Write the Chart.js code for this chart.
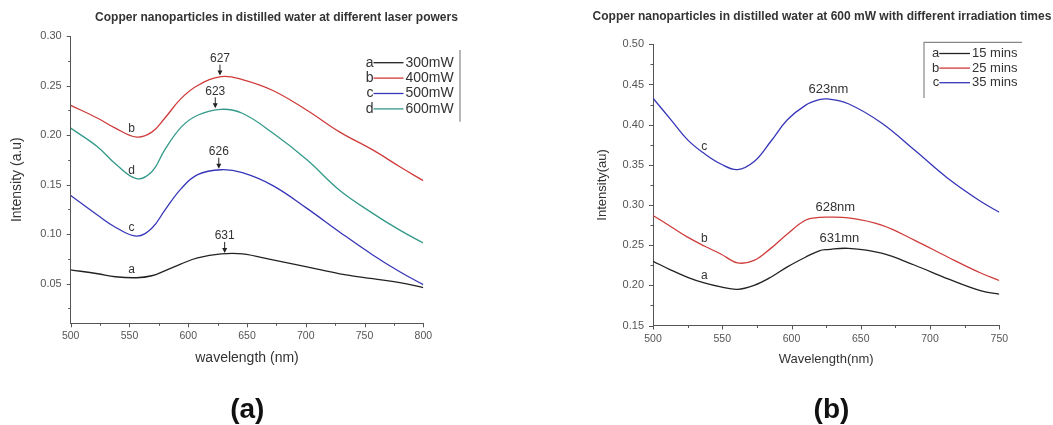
<!DOCTYPE html>
<html>
<head>
<meta charset="utf-8">
<script src="https://cdn.jsdelivr.net/npm/chart.js"></script>
<style>
  html, body { margin: 0; padding: 0; background: #fff; }
  #wrap { position: relative; width: 1053px; height: 425px; overflow: hidden; }
  #chartA { position: absolute; left: 0; top: 0; }
  #chartB { position: absolute; left: 520px; top: 0; }
</style>
</head>
<body>
<div id="wrap">
  <canvas id="chartA" width="520" height="425"></canvas>
  <canvas id="chartB" width="533" height="425"></canvas>
</div>
<script>
// ---------- (a) different laser powers ----------
const waveA    = [500, 523, 538, 556, 569, 580, 594, 608, 628, 646, 672, 701, 729, 757, 780, 800];
const power300 = [0.064, 0.060, 0.057, 0.056, 0.058, 0.063, 0.070, 0.076, 0.080, 0.080, 0.074, 0.067, 0.060, 0.055, 0.051, 0.046];
const power400 = [0.230, 0.217, 0.207, 0.198, 0.203, 0.217, 0.237, 0.250, 0.259, 0.256, 0.245, 0.225, 0.203, 0.185, 0.168, 0.154];
const power500 = [0.139, 0.119, 0.107, 0.098, 0.106, 0.124, 0.146, 0.160, 0.165, 0.162, 0.149, 0.126, 0.102, 0.079, 0.062, 0.049];
const power600 = [0.207, 0.188, 0.171, 0.156, 0.163, 0.185, 0.208, 0.220, 0.226, 0.222, 0.202, 0.175, 0.144, 0.121, 0.104, 0.091];
const lettersA = ["a", "b", "c", "d"];
const namesA   = ["300mW", "400mW", "500mW", "600mW"];
const peakTextA = ["631", "627", "626", "623"];
const peakWaveA = [631, 627, 626, 623];
const peakValA  = [0.080, 0.259, 0.165, 0.226];
const xTicksA = [500, 550, 600, 650, 700, 750, 800];
const yTicksA = [0.05, 0.10, 0.15, 0.20, 0.25, 0.30];

// ---------- (b) 600 mW, different irradiation times ----------
const waveB  = [500, 513, 525, 537, 549, 561, 573, 585, 597, 610, 620, 626, 641, 665, 689, 713, 737, 750];
const time15 = [0.230, 0.219, 0.210, 0.203, 0.198, 0.195, 0.200, 0.210, 0.223, 0.235, 0.243, 0.2445, 0.246, 0.240, 0.225, 0.208, 0.193, 0.189];
const time25 = [0.287, 0.273, 0.260, 0.249, 0.239, 0.228, 0.231, 0.246, 0.264, 0.281, 0.2845, 0.285, 0.284, 0.275, 0.256, 0.235, 0.215, 0.206];
const time35 = [0.433, 0.406, 0.381, 0.364, 0.351, 0.344, 0.354, 0.379, 0.406, 0.424, 0.431, 0.432, 0.426, 0.402, 0.368, 0.333, 0.304, 0.291];
const lettersB = ["a", "b", "c"];
const namesB   = ["15 mins", "25 mins", "35 mins"];
const peakTextB = ["631mn", "628nm", "623nm"];
const peakWaveB = [631, 628, 623];
const peakValB  = [0.246, 0.285, 0.432];
const xTicksB = [500, 550, 600, 650, 700, 750];
const yTicksB = [0.15, 0.20, 0.25, 0.30, 0.35, 0.40, 0.45, 0.50];

const FONT = "'Liberation Sans', Arial, sans-serif";
const INK = "#333";
const AXIS = "#555";

function pts(xs, ys) {
    return xs.map((x, i) => ({ x: x, y: ys[i] }));
}

function isMajor(v, majors) {
    return majors.some(m => Math.abs(m - v) < 1e-6);
}

// majors plus the half-way minor ticks
function withMinors(majors, min) {
    const step = majors[1] - majors[0];
    const out = majors.slice();
    majors.forEach(m => {
        const h = +(m - step / 2).toFixed(4);
        if (h >= min) out.push(h);
    });
    return out.sort((a, b) => a - b);
}

function line(label, letter, data, color) {
    return {
        label: label,
        letter: letter,
        data: data,
        borderColor: color,
        borderWidth: 1.3,
        pointRadius: 0,
        fill: false,
        tension: 0.4
    };
}

// -----------------------------
// DECORATION PLUGIN
// -----------------------------
const decor = {
    id: "decor",
    afterDraw(chart, args, o) {
        const ctx = chart.ctx;
        const xs = chart.scales.x, ys = chart.scales.y;
        ctx.save();

        // tick marks
        ctx.strokeStyle = AXIS;
        ctx.lineWidth = 1;
        xs.ticks.forEach(t => {
            const px = Math.round(xs.getPixelForValue(t.value)) + 0.5;
            const len = isMajor(t.value, o.xMajors) ? 4 : 2.5;
            ctx.beginPath();
            ctx.moveTo(px, xs.top);
            ctx.lineTo(px, xs.top + len);
            ctx.stroke();
        });
        ys.ticks.forEach(t => {
            const py = Math.round(ys.getPixelForValue(t.value)) + 0.5;
            const len = isMajor(t.value, o.yMajors) ? 4 : 2.5;
            ctx.beginPath();
            ctx.moveTo(ys.right, py);
            ctx.lineTo(ys.right - len, py);
            ctx.stroke();
        });

        // title
        ctx.fillStyle = INK;
        ctx.textAlign = "center";
        ctx.textBaseline = "middle";
        ctx.font = "bold 12px " + FONT;
        ctx.fillText(o.title, o.titleX, o.titleY);

        // panel label
        ctx.fillStyle = "#111";
        ctx.font = "bold 28px " + FONT;
        ctx.fillText(o.panel, o.panelX, 410);

        // legend
        ctx.font = o.legendFont;
        chart.data.datasets.forEach((ds, i) => {
            const y = o.legend.y + i * o.legend.step;
            ctx.fillStyle = INK;
            ctx.textAlign = "right";
            ctx.fillText(ds.letter, o.legend.x, y);
            ctx.strokeStyle = ds.borderColor;
            ctx.lineWidth = 1.3;
            ctx.beginPath();
            ctx.moveTo(o.legend.x, y);
            ctx.lineTo(o.legend.x + o.legend.len, y);
            ctx.stroke();
            ctx.fillStyle = INK;
            ctx.textAlign = "left";
            ctx.fillText(ds.label, o.legend.x + o.legend.len + 2, y);
        });
        ctx.strokeStyle = "#888";
        ctx.lineWidth = 1.2;
        ctx.beginPath();
        o.legend.frame.forEach((p, i) => i ? ctx.lineTo(p[0], p[1]) : ctx.moveTo(p[0], p[1]));
        ctx.stroke();

        // curve letters
        ctx.fillStyle = INK;
        ctx.textAlign = "center";
        ctx.font = "12px " + FONT;
        chart.data.datasets.forEach((ds, i) => {
            const el = chart.getDatasetMeta(i).data[o.letterIndex];
            ctx.fillText(ds.letter, el.x + o.letterDx, el.y + o.letterDy);
        });

        // peak labels
        ctx.font = o.peakFont;
        o.peaks.text.forEach((txt, i) => {
            const px = xs.getPixelForValue(o.peaks.wave[i]);
            const py = ys.getPixelForValue(o.peaks.val[i]);
            ctx.fillStyle = INK;
            ctx.fillText(txt, px + o.peakDx, py - o.peakGap);
            if (o.arrows) {
                ctx.strokeStyle = "#222";
                ctx.lineWidth = 1;
                ctx.beginPath();
                ctx.moveTo(px, py - 12);
                ctx.lineTo(px, py - 4);
                ctx.stroke();
                ctx.fillStyle = "#222";
                ctx.beginPath();
                ctx.moveTo(px - 2.5, py - 6);
                ctx.lineTo(px + 2.5, py - 6);
                ctx.lineTo(px, py - 1);
                ctx.closePath();
                ctx.fill();
            }
        });
        ctx.restore();
    }
};

function axes(xMin, xMax, yMin, yMax, xMajors, yMajors, xTitle, yTitle, titleFont, yWidth, xPad, yPad) {
    const xAll = withMinors(xMajors, xMin);
    const yAll = withMinors(yMajors, yMin);
    return {
        x: {
            type: "linear",
            min: xMin,
            max: xMax,
            afterBuildTicks: s => { s.ticks = xAll.map(v => ({ value: v })); },
            afterFit: s => { s.height = 50; },
            grid: { drawOnChartArea: false, drawTicks: false },
            border: { display: true, color: AXIS, width: 1 },
            ticks: {
                padding: 7,
                autoSkip: false,
                maxRotation: 0,
                color: AXIS,
                font: { family: FONT, size: 10.5 },
                callback: v => isMajor(v, xMajors) ? String(v) : ""
            },
            title: {
                display: true,
                text: xTitle,
                color: INK,
                font: { family: FONT, size: titleFont },
                padding: { top: 0, bottom: xPad }
            }
        },
        y: {
            type: "linear",
            min: yMin,
            max: yMax,
            afterBuildTicks: s => { s.ticks = yAll.map(v => ({ value: v })); },
            afterFit: s => { s.width = yWidth; },
            grid: { drawOnChartArea: false, drawTicks: false },
            border: { display: true, color: AXIS, width: 1 },
            ticks: {
                padding: 9,
                autoSkip: false,
                color: AXIS,
                font: { family: FONT, size: 11 },
                callback: v => isMajor(v, yMajors) ? v.toFixed(2) : ""
            },
            title: {
                display: true,
                text: yTitle,
                color: INK,
                font: { family: FONT, size: titleFont },
                padding: { top: yPad, bottom: 0 }
            }
        }
    };
}

// -----------------------------
// CHART (a)
// -----------------------------
new Chart(document.getElementById("chartA"), {
    type: "line",
    data: {
        datasets: [
            line(namesA[0], lettersA[0], pts(waveA, power300), "#222222"),
            line(namesA[1], lettersA[1], pts(waveA, power400), "#cf3b3b"),
            line(namesA[2], lettersA[2], pts(waveA, power500), "#3636b8"),
            line(namesA[3], lettersA[3], pts(waveA, power600), "#33998a")
        ]
    },
    options: {
        responsive: false,
        animation: false,
        layout: { padding: { left: 4, right: 96.7, top: 36, bottom: 51.7 } },
        scales: axes(500, 800, 0.01, 0.30, xTicksA, yTicksA,
            "wavelength (nm)", "Intensity (a.u)", 14, 66.7, 6.9, 4.6),
        plugins: {
            legend: { display: false },
            tooltip: { enabled: false },
            decor: {
                title: "Copper nanoparticles in distilled water at different laser powers",
                titleX: 276.5, titleY: 18,
                panel: "(a)", panelX: 247.3,
                xMajors: xTicksA, yMajors: yTicksA,
                legendFont: "14px " + FONT,
                legend: { x: 373.5, y: 62.7, step: 15.4, len: 30,
                          frame: [[460, 50], [460, 121.7]] },
                letterIndex: 3, letterDx: -5, letterDy: -8,
                peakFont: "12px " + FONT,
                peaks: { text: peakTextA, wave: peakWaveA, val: peakValA },
                peakDx: 0, peakGap: 18, arrows: true
            }
        }
    },
    plugins: [decor]
});

// -----------------------------
// CHART (b)
// -----------------------------
new Chart(document.getElementById("chartB"), {
    type: "line",
    data: {
        datasets: [
            line(namesB[0], lettersB[0], pts(waveB, time15), "#222222"),
            line(namesB[1], lettersB[1], pts(waveB, time25), "#cf3b3b"),
            line(namesB[2], lettersB[2], pts(waveB, time35), "#3636b8")
        ]
    },
    options: {
        responsive: false,
        animation: false,
        layout: { padding: { left: 70, right: 53.7, top: 44.3, bottom: 49.5 } },
        scales: axes(500, 750, 0.15, 0.50, xTicksB, yTicksB,
            "Wavelength(nm)", "Intensity(au)", 13, 63, 8.7, 4.5),
        plugins: {
            legend: { display: false },
            tooltip: { enabled: false },
            decor: {
                title: "Copper nanoparticles in distilled water at 600 mW with different irradiation times",
                titleX: 302, titleY: 16.7,
                panel: "(b)", panelX: 311.5,
                xMajors: xTicksB, yMajors: yTicksB,
                legendFont: "13px " + FONT,
                legend: { x: 419.3, y: 53.5, step: 14.6, len: 30.7,
                          frame: [[404, 98], [404, 42.3], [502, 42.3]] },
                letterIndex: 3, letterDx: 0, letterDy: -7,
                peakFont: "13px " + FONT,
                peaks: { text: peakTextB, wave: peakWaveB, val: peakValB },
                peakDx: 5, peakGap: 10, arrows: false
            }
        }
    },
    plugins: [decor]
});
</script>
</body>
</html>
